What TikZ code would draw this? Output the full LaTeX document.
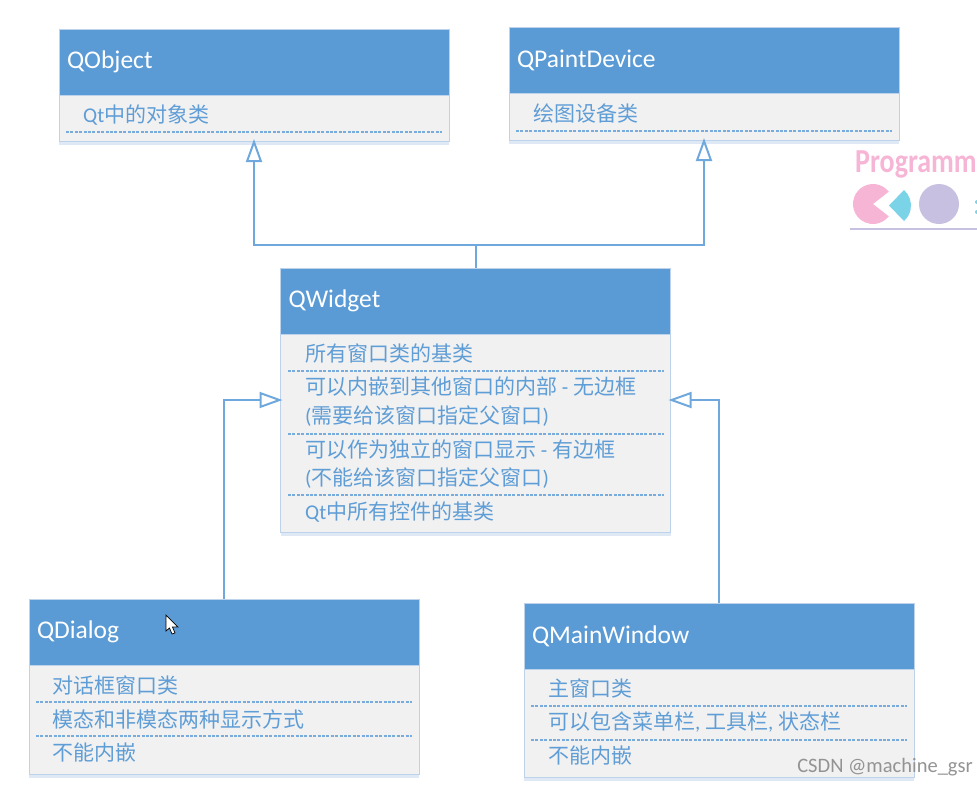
\documentclass[tikz,border=0pt]{standalone}
\usepackage{xcolor}
\usepackage{fontspec}
\setmainfont{Carlito}
\newfontfamily\cjk{Noto Sans CJK SC}
\usetikzlibrary{arrows.meta,shadows}
\definecolor{headblue}{HTML}{5B9BD5}
\definecolor{textblue}{HTML}{5F9DD6}
\definecolor{linkblue}{HTML}{6FA8DC}
\definecolor{edgeblue}{HTML}{BDD3EC}
\definecolor{bodygray}{HTML}{F1F1F1}
\definecolor{logopink}{HTML}{F7B5D6}
\definecolor{logocyan}{HTML}{7BD3E8}
\definecolor{logolilac}{HTML}{C7C0E0}
\newcommand{\zh}[1]{{\cjk #1}}
\tikzset{
    classbox/.style={draw=edgeblue, fill=bodygray, minimum width=390pt, inner sep=0pt, outer sep=0pt,
        drop shadow={shadow xshift=0pt, shadow yshift=-4pt, fill=edgeblue, opacity=0.5}},
    classhead/.style={draw=edgeblue, fill=headblue, minimum width=390pt, minimum height=66pt,
        inner sep=0pt, outer sep=0pt, anchor=north, text=white, font=\fontsize{25.5}{28}\selectfont,
        text width=374pt, align=left},
    classline/.style={anchor=west, inner sep=0pt, text=textblue, font=\fontsize{21}{25}\selectfont},
    sepline/.style={draw=textblue!85, line width=2pt, dash pattern=on 3pt off 1.4pt},
    inherit/.style={draw=linkblue, line width=2pt, ->, shorten >=-2pt},
}
\begin{document}
\begin{tikzpicture}[x=1pt, y=-1pt, >={Triangle[open, length=23pt, width=16pt, line width=2pt]}]
    \useasboundingbox (0,0) rectangle (977,785);
    \clip (0,0) rectangle (977,785);

    % QObject
    \node (QObject) [classbox, minimum height=112pt] at (254,85) {};
    \node (QObjectHead) [classhead] at (QObject.north) {QObject};
    \node (QObjectA) [classline] at (83,115) {Qt\zh{中的对象类}};
    \draw[sepline] (66,132) -- (442,132);

    % QPaintDevice
    \node (QPaintDevice) [classbox, minimum height=113pt] at (704,83.5) {};
    \node (QPaintDeviceHead) [classhead] at (QPaintDevice.north) {QPaintDevice};
    \node (QPaintDeviceA) [classline] at (533,114) {\zh{绘图设备类}};
    \draw[sepline] (516,131) -- (892,131);

    % QWidget
    \node (QWidget) [classbox, minimum height=264pt] at (475.5,400) {};
    \node (QWidgetHead) [classhead] at (QWidget.north) {QWidget};
    \node (QWidgetA) [classline] at (305,353) {\zh{所有窗口类的基类}};
    \node (QWidgetB) [classline] at (305,387) {\zh{可以内嵌到其他窗口的内部} - \zh{无边框}};
    \node (QWidgetC) [classline] at (305,416) {(\zh{需要给该窗口指定父窗口})};
    \node (QWidgetD) [classline] at (305,450) {\zh{可以作为独立的窗口显示} - \zh{有边框}};
    \node (QWidgetE) [classline] at (305,478) {(\zh{不能给该窗口指定父窗口})};
    \node (QWidgetF) [classline] at (305,512) {Qt\zh{中所有控件的基类}};
    \foreach \y in {371,434,495}
        \draw[sepline] (288,\y) -- (664,\y);

    % QDialog
    \node (QDialog) [classbox, minimum height=175pt] at (224,686.5) {};
    \node (QDialogHead) [classhead] at (QDialog.north) {QDialog};
    \node (QDialogA) [classline] at (52,685) {\zh{对话框窗口类}};
    \node (QDialogB) [classline] at (52,719) {\zh{模态和非模态两种显示方式}};
    \node (QDialogC) [classline] at (52,753) {\zh{不能内嵌}};
    \foreach \y in {702,736}
        \draw[sepline] (36,\y) -- (412,\y);

    % QMainWindow
    \node (QMainWindow) [classbox, minimum height=174pt] at (719,690) {};
    \node (QMainWindowHead) [classhead] at (QMainWindow.north) {QMainWindow};
    \node (QMainWindowA) [classline] at (548,688) {\zh{主窗口类}};
    \node (QMainWindowB) [classline] at (548,722) {\zh{可以包含菜单栏}, \zh{工具栏}, \zh{状态栏}};
    \node (QMainWindowC) [classline] at (548,756) {\zh{不能内嵌}};
    \foreach \y in {706,740}
        \draw[sepline] (531,\y) -- (907,\y);

    % inheritance
    \coordinate (fork) at (475.5,245);
    \draw[inherit, -, shorten >=0pt] (QWidget.north) -- (fork);
    \draw[inherit] (fork) -| (QObject.south);
    \draw[inherit] (fork) -| (QPaintDevice.south);
    \draw[inherit] (QDialog.north) |- (QWidget.west);
    \draw[inherit] (QMainWindow.north) |- (QWidget.east);

    % logo
    \node (logotext) [anchor=base west, inner sep=0pt, text=logopink,
        font=\fontsize{28}{28}\selectfont\bfseries] at (855,172) {\scalebox{1}[1.2]{Programm}};
    \fill[logopink] (873,204) -- ++(-38:20) arc[start angle=-38, end angle=-322, radius=20] -- cycle;
    \fill[logocyan] (889,205.5) -- (904,190) arc[start angle=-48.5, end angle=48.5, radius=20.7] -- cycle;
    \fill[logolilac] (939,204) circle[radius=20];
    \fill[logocyan] (977,202) circle[radius=2];
    \fill[logocyan] (977,212) circle[radius=2];
    \draw[logolilac, line width=2.5pt] (850,229) -- (977,229);

    % cursor
    \draw[black, fill=white, line width=0.7pt] (166,615) -- (166,631) -- (169.5,628) -- (172,634)
        -- (175,633) -- (172.5,627) -- (178,627) -- cycle;

    % watermark
    \node (watermark) [anchor=east, inner sep=0pt, text=gray!85, font=\fontsize{20.5}{24}\selectfont]
        at (973,767) {CSDN @machine\_gsr};
\end{tikzpicture}
\end{document}
